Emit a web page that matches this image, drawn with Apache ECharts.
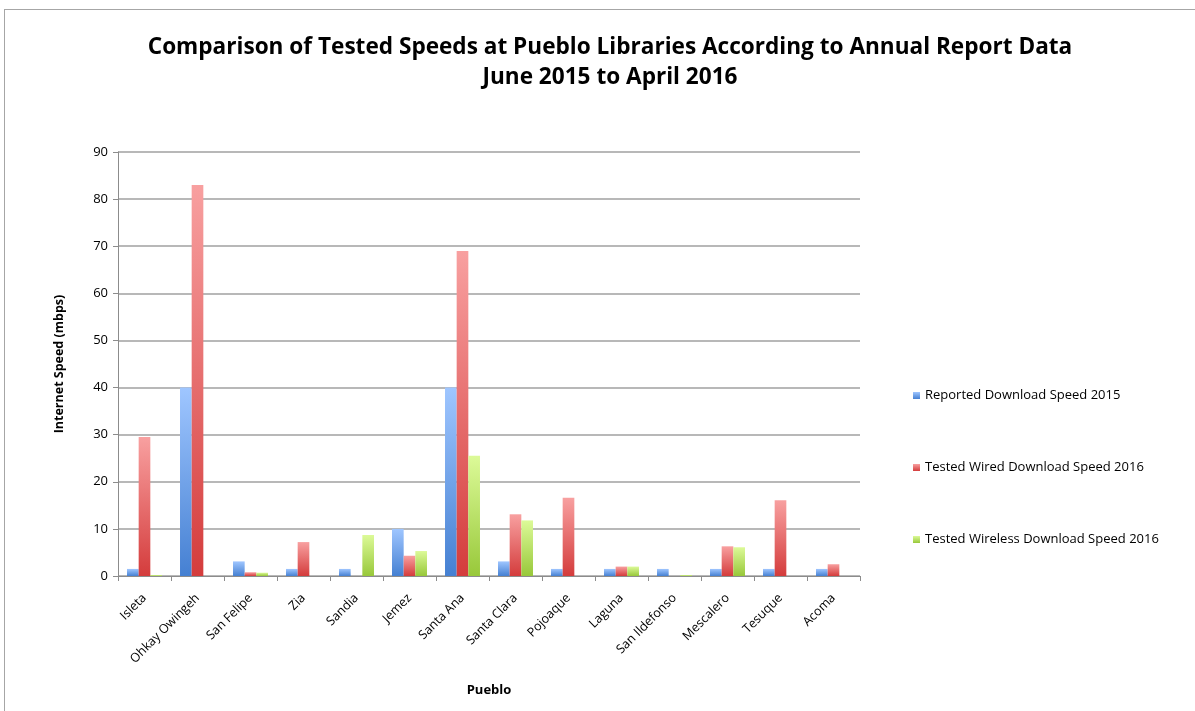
<!DOCTYPE html>
<html>
<head>
<meta charset="utf-8">
<script src="https://cdn.jsdelivr.net/npm/echarts@6/dist/echarts.min.js"></script>
<style>
  html, body { margin: 0; padding: 0; background: #fff; }
  #frame { position: absolute; left: 4px; top: 9px; width: 1200px; height: 720px; border: 1px solid #a6a6a6; box-sizing: border-box; }
  #chart { position: absolute; left: 0; top: 0; width: 1195px; height: 711px; }
</style>
</head>
<body>
<div id="frame"></div>
<div id="chart"></div>
<script>
const pueblos = ['Isleta', 'Ohkay Owingeh', 'San Felipe', 'Zia', 'Sandia', 'Jemez', 'Santa Ana',
  'Santa Clara', 'Pojoaque', 'Laguna', 'San Ildefonso', 'Mescalero', 'Tesuque', 'Acoma'];
const reported2015 = [1.5, 40, 3.1, 1.5, 1.5, 10, 40, 3.1, 1.5, 1.5, 1.5, 1.5, 1.5, 1.5];
const wired2016 = [29.5, 83, 0.8, 7.2, 0, 4.3, 69, 13.1, 16.6, 2, 0, 6.3, 16.1, 2.5];
const wireless2016 = [0.2, 0, 0.7, 0, 8.7, 5.3, 25.5, 11.8, 0, 2, 0.2, 6.1, 0, 0];
const seriesNames = ['Reported Download Speed 2015', 'Tested Wired Download Speed 2016', 'Tested Wireless Download Speed 2016'];

const font = '"Open Sans", sans-serif';

function grad(top, bottom) {
  return new echarts.graphic.LinearGradient(0, 0, 0, 1, [
    { offset: 0, color: top }, { offset: 1, color: bottom }
  ]);
}

const chart = echarts.init(document.getElementById('chart'), null, { renderer: 'canvas' });
chart.setOption({
  backgroundColor: 'transparent',
  animation: false,
  color: ['#5b95e0', '#df5252', '#a8d44c'],
  title: {
    text: 'Comparison of Tested Speeds at Pueblo Libraries According to Annual Report Data\nJune 2015 to April 2016',
    left: 605, top: 28, textAlign: 'center',
    textStyle: { fontFamily: font, fontWeight: 'bold', fontSize: 22.6, lineHeight: 30, color: '#000' }
  },
  legend: {
    orient: 'vertical', left: 908, top: 384,
    itemWidth: 7, itemHeight: 7, itemGap: 59,
    icon: 'rect',
    textStyle: { fontFamily: font, fontSize: 13, color: '#000' },
    data: seriesNames
  },
  grid: { left: 118, right: 335, top: 152, bottom: 135, containLabel: false },
  xAxis: {
    type: 'category', data: pueblos,
    name: 'Pueblo', nameLocation: 'middle', nameGap: 108,
    nameTextStyle: { fontFamily: font, fontWeight: 'bold', fontSize: 13, color: '#000' },
    axisLine: { lineStyle: { color: '#8c8c8c', width: 1 } },
    axisTick: { show: true, length: 5, lineStyle: { color: '#8c8c8c' } },
    axisLabel: { rotate: 45, interval: 0, margin: 20, fontFamily: font, fontSize: 12.5, color: '#000' }
  },
  yAxis: {
    type: 'value', min: 0, max: 90, interval: 10,
    name: 'Internet Speed (mbps)', nameLocation: 'middle', nameGap: 52, nameRotate: 90,
    nameTextStyle: { fontFamily: font, fontWeight: 'bold', fontSize: 12.5, color: '#000' },
    axisLine: { show: true, lineStyle: { color: '#8c8c8c' } },
    axisTick: { show: true, length: 5, lineStyle: { color: '#8c8c8c' } },
    axisLabel: { margin: 10, fontFamily: font, fontSize: 13, color: '#000' },
    splitLine: { lineStyle: { color: '#a0a0a0', width: 1.5 } }
  },
  series: [
    { name: seriesNames[0], type: 'bar', data: reported2015, barGap: '0%', barCategoryGap: '34%',
      itemStyle: { color: grad('#9fc6ff', '#4580d2') } },
    { name: seriesNames[1], type: 'bar', data: wired2016,
      itemStyle: { color: grad('#f8a0a0', '#d43c3c') } },
    { name: seriesNames[2], type: 'bar', data: wireless2016,
      itemStyle: { color: grad('#dcfa98', '#98c83a') } }
  ]
});
</script>
</body>
</html>
